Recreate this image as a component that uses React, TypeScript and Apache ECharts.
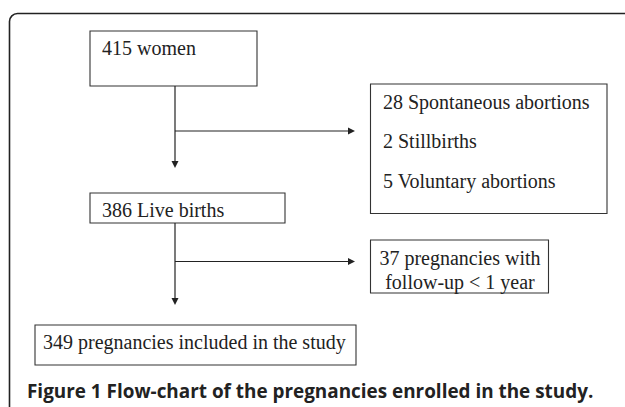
import React, { useEffect, useRef } from "react";
import * as echarts from "echarts";

// ---- content (texts of the flow chart) ----
const topBox = ["415 women"];
const excludedBox = ["28 Spontaneous abortions", "2 Stillbirths", "5 Voluntary abortions"];
const liveBox = ["386 Live births"];
const followBox = ["37 pregnancies with", "follow-up < 1 year"];
const finalBox = ["349 pregnancies included in the study"];
const captionBold = "Figure 1 Flow-chart of the pregnancies enrolled in the study.";

// ---- layout ----
type Box = { lines: string[]; x: number; y: number; w: number; h: number; tx: number; ty: number[]; align: string };
const boxes: Box[] = [
  { lines: topBox, x: 90, y: 31, w: 167, h: 55, tx: 102, ty: [54], align: "left" },
  { lines: excludedBox, x: 370.5, y: 84, w: 236.5, h: 129.5, tx: 383, ty: [108, 147, 187], align: "left" },
  { lines: liveBox, x: 90, y: 193, w: 195, h: 30, tx: 102, ty: [216], align: "left" },
  { lines: followBox, x: 370.5, y: 240, w: 178, h: 53, tx: 460, ty: [264, 288], align: "center" },
  { lines: finalBox, x: 35, y: 325, w: 321, h: 40, tx: 43, ty: [348], align: "left" },
];

const FONT = 20;
const CAP = 18.9;
const LINE = "#222";

export default function App() {
  const ref = useRef<HTMLDivElement>(null);
  useEffect(() => {
    if (!ref.current) return;
    const chart = echarts.init(ref.current, undefined, { renderer: "svg" });
    const g: any[] = [];
    // outer frame with rounded top-left corner
    g.push({
      type: "rect",
      shape: { x: 9.5, y: 13.5, width: 800, height: 600, r: [8, 0, 0, 0] },
      style: { fill: "none", stroke: LINE, lineWidth: 1.6 },
    });
    boxes.forEach((b) => {
      g.push({
        type: "rect",
        shape: { x: b.x, y: b.y, width: b.w, height: b.h },
        style: { fill: "#fff", stroke: "#333", lineWidth: 1.1 },
      });
      b.lines.forEach((t, i) => {
        g.push({
          type: "text",
          style: {
            text: t,
            x: b.tx,
            y: b.ty[i] - FONT * 0.32,
            font: `${FONT}px "Liberation Serif"`,
            fill: "#222",
            textAlign: b.align,
            textVerticalAlign: "middle",
          },
        });
      });
    });
    const vLine = (x: number, y1: number, y2: number) => {
      g.push({ type: "line", shape: { x1: x, y1, x2: x, y2: y2 - 6 }, style: { stroke: LINE, lineWidth: 1.2 } });
      g.push({ type: "polygon", shape: { points: [[x - 3.5, y2 - 7], [x + 3.5, y2 - 7], [x, y2]] }, style: { fill: LINE } });
    };
    const hLine = (y: number, x1: number, x2: number) => {
      g.push({ type: "line", shape: { x1, y1: y, x2: x2 - 6, y2: y }, style: { stroke: LINE, lineWidth: 1.2 } });
      g.push({ type: "polygon", shape: { points: [[x2 - 7, y - 3.5], [x2 - 7, y + 3.5], [x2, y]] }, style: { fill: LINE } });
    };
    vLine(175, 86, 168);
    hLine(131, 175, 355);
    vLine(175, 223, 305);
    hLine(261.5, 175, 355);
    g.push({
      type: "text",
      style: {
        text: captionBold,
        x: 27,
        y: 397.5 - CAP * 0.36,
        font: `bold ${CAP}px "Open Sans"`,
        fill: "#222",
        textAlign: "left",
        textVerticalAlign: "middle",
      },
    });
    chart.setOption({ animation: false, backgroundColor: "#fff", graphic: { elements: g } });
    return () => chart.dispose();
  }, []);
  return <div ref={ref} style={{ position: "fixed", left: 0, top: 0, width: 625, height: 407 }} />;
}
